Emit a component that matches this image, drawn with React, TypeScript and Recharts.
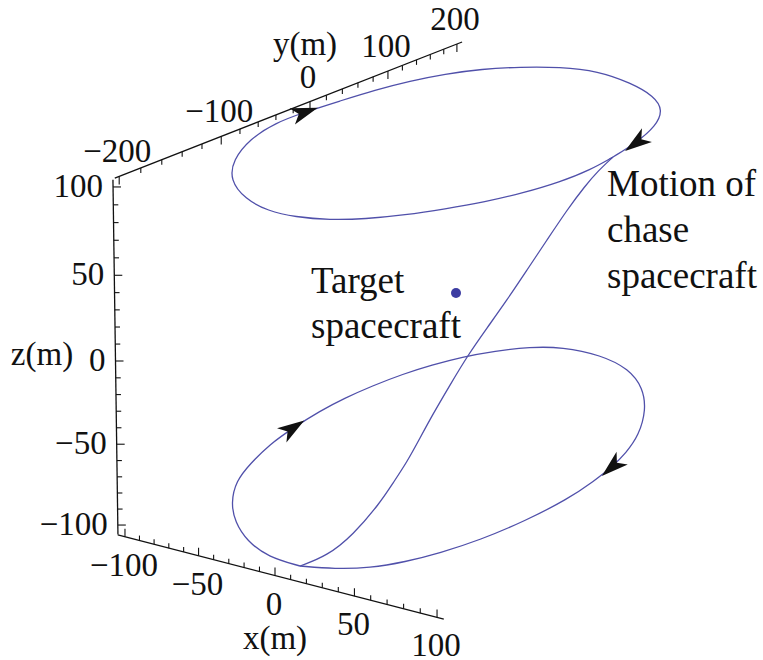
import React from "react";
import { LineChart, Line, XAxis, YAxis, ReferenceLine, ReferenceDot } from "recharts";

// Chase spacecraft trajectory, traced in the projected view plane (1 unit = 1 px)
const upperLoop = [
  { x: 613, y: 157 }, { x: 590, y: 170 }, { x: 560, y: 182 }, { x: 523, y: 193 },
  { x: 485, y: 202 }, { x: 445, y: 209 }, { x: 405, y: 215 }, { x: 365, y: 219 },
  { x: 330, y: 220 }, { x: 295, y: 217 }, { x: 268, y: 211 }, { x: 245, y: 199 },
  { x: 230, y: 180 }, { x: 233, y: 160 }, { x: 250, y: 139 }, { x: 275, y: 123 },
  { x: 305, y: 112 }, { x: 340, y: 101 }, { x: 375, y: 90 }, { x: 410, y: 81 },
  { x: 445, y: 74 }, { x: 482, y: 69 }, { x: 520, y: 67 }, { x: 560, y: 67 },
  { x: 598, y: 71 }, { x: 631, y: 83 }, { x: 654, y: 96 }, { x: 663, y: 110 },
  { x: 656, y: 126 }, { x: 636, y: 143 }, { x: 613, y: 157 },
];

const transfer = [
  { x: 613, y: 157 }, { x: 598, y: 171 }, { x: 585, y: 186 }, { x: 567, y: 210 },
  { x: 547, y: 240 }, { x: 527, y: 270 }, { x: 507, y: 300 }, { x: 487, y: 328 },
  { x: 468, y: 355 }, { x: 450, y: 385 }, { x: 433, y: 414 }, { x: 420, y: 438 },
  { x: 407, y: 462 }, { x: 393, y: 483 }, { x: 380, y: 503 }, { x: 353, y: 535 },
  { x: 327, y: 556 }, { x: 300, y: 566 },
];

const lowerLoop = [
  { x: 300, y: 566 }, { x: 268, y: 557 }, { x: 247, y: 541 }, { x: 235, y: 522 },
  { x: 231, y: 503 }, { x: 236, y: 481 }, { x: 250, y: 464 }, { x: 270, y: 444 },
  { x: 293, y: 428 }, { x: 320, y: 411 }, { x: 345, y: 398 }, { x: 372, y: 386 },
  { x: 403, y: 374 }, { x: 432, y: 365 }, { x: 462, y: 357 }, { x: 495, y: 351 },
  { x: 530, y: 347 }, { x: 562, y: 347 }, { x: 601, y: 355 }, { x: 629, y: 369 },
  { x: 643, y: 388 }, { x: 646, y: 410 }, { x: 639, y: 435 }, { x: 626, y: 453 },
  { x: 612, y: 467 }, { x: 594, y: 481 }, { x: 568, y: 499 }, { x: 525, y: 521 },
  { x: 480, y: 540 }, { x: 440, y: 553 }, { x: 405, y: 562 }, { x: 370, y: 568 },
  { x: 335, y: 569 }, { x: 300, y: 566 },
];

const targetPoint = [{ x: 456, y: 293 }];

// direction arrows: which path and which traced point they sit on
const arrowMarks = [
  { path: upperLoop, at: 16 },
  { path: upperLoop, at: 29 },
  { path: lowerLoop, at: 8 },
  { path: lowerLoop, at: 24 },
];

const xTickLabels = [-100, -50, 0, 50, 100];
const yTickLabels = [-200, -100, 0, 100, 200];
const zTickLabels = [-100, -50, 0, 50, 100];

const W = 763;
const H = 660;
const INK = "#111";
const CURVE = "#5050aa";
const SERIF = "'Liberation Serif', 'Times New Roman', serif";

type BoxAxis = {
  origin: [number, number]; // where value 0 lands
  dir: [number, number];
  a: number; // px per 100 units at the origin
  c: number; // perspective foreshortening
  min: number;
  max: number;
  minor: number;
  major: number;
  tickDir: [number, number];
  labels: number[];
  labelOffset: [number, number];
  anchor: "middle" | "end";
};

const xAxis3: BoxAxis = {
  origin: [275, 575.6], dir: [1, 0.2585], a: 155.8, c: 0.0385,
  min: -105, max: 104, minor: 10, major: 50, tickDir: [0, -1],
  labels: xTickLabels, labelOffset: [-1, 28], anchor: "middle",
};
const yAxis3: BoxAxis = {
  origin: [310, 101.6], dir: [1, -0.392], a: 83, c: -0.065,
  min: -204, max: 208, minor: 20, major: 100, tickDir: [0, 1],
  labels: yTickLabels, labelOffset: [-2, -25], anchor: "middle",
};
const zAxis3: BoxAxis = {
  origin: [115.5, 361], dir: [-0.0141, -1], a: 168.9, c: 0.0296,
  min: -106, max: 104, minor: 10, major: 50, tickDir: [1, 0],
  labels: zTickLabels, labelOffset: [-10, -1], anchor: "end",
};

const project = (ax: BoxAxis, v: number) => {
  const u = v / 100;
  const s = (ax.a * u) / (1 - ax.c * u);
  return { x: ax.origin[0] + ax.dir[0] * s, y: ax.origin[1] + ax.dir[1] * s };
};

const fmt = (v: number) => (v < 0 ? `\u2212${-v}` : `${v}`);

const textShape =
  (lines: string[], size: number, anchor: string, lineGap = 0) =>
  (p: any) => (
    <text
      x={p.cx}
      y={p.cy}
      textAnchor={anchor}
      fontFamily={SERIF}
      fontSize={size}
      fill={INK}
      dominantBaseline={lineGap ? "alphabetic" : "central"}
    >
      {lines.map((t, i) => (
        <tspan key={i} x={p.cx} dy={i === 0 ? 0 : lineGap}>
          {t}
        </tspan>
      ))}
    </text>
  );

function axisElements(ax: BoxAxis, key: string) {
  const out: React.ReactElement[] = [];
  const a = project(ax, ax.min);
  const b = project(ax, ax.max);
  out.push(
    <ReferenceLine
      key={`${key}-line`}
      segment={[a, b]}
      stroke={INK}
      strokeWidth={1.3}
      ifOverflow="visible"
    />
  );
  const first = Math.ceil(ax.min / ax.minor) * ax.minor;
  for (let v = first; v <= ax.max; v += ax.minor) {
    const p = project(ax, v);
    const len = v % ax.major === 0 ? 8 : 5;
    out.push(
      <ReferenceLine
        key={`${key}-t${v}`}
        segment={[p, { x: p.x + ax.tickDir[0] * len, y: p.y + ax.tickDir[1] * len }]}
        stroke={INK}
        strokeWidth={1.1}
        ifOverflow="visible"
      />
    );
  }
  ax.labels.forEach((v) => {
    const p = project(ax, v);
    out.push(
      <ReferenceDot
        key={`${key}-l${v}`}
        x={p.x + ax.labelOffset[0]}
        y={p.y + ax.labelOffset[1]}
        r={0}
        ifOverflow="visible"
        shape={textShape([fmt(v)], 33, ax.anchor)}
      />
    );
  });
  return out;
}

// dart-shaped arrowhead, centred on the anchor point
const arrowShape = (angle: number) => (p: any) => {
  const L = 27;
  const hw = 8.5;
  const notch = 7;
  return (
    <polygon
      points={`${L / 2},0 ${-L / 2},${-hw} ${-L / 2 + notch},0 ${-L / 2},${hw}`}
      transform={`translate(${p.cx},${p.cy}) rotate(${angle})`}
      fill={INK}
    />
  );
};

export default function App() {
  const paths = [upperLoop, transfer, lowerLoop];
  return (
    <div style={{ position: "absolute", left: 0, top: 0, width: W, height: H, background: "#fff" }}>
      <LineChart width={W} height={H} margin={{ top: 0, right: 0, bottom: 0, left: 0 }}>
        <XAxis type="number" dataKey="x" domain={[0, W]} hide allowDataOverflow />
        <YAxis type="number" dataKey="y" domain={[0, H]} reversed hide allowDataOverflow />

        {axisElements(xAxis3, "ax")}
        {axisElements(yAxis3, "ay")}
        {axisElements(zAxis3, "az")}

        {paths.map((d, i) => (
          <Line
            key={i}
            data={d}
            dataKey="y"
            type="basis"
            stroke={CURVE}
            strokeWidth={1.3}
            dot={false}
            activeDot={false}
            isAnimationActive={false}
          />
        ))}

        <Line
          data={targetPoint}
          dataKey="y"
          stroke="none"
          dot={{ r: 5, fill: "#3c3ca2", stroke: "none" }}
          activeDot={false}
          isAnimationActive={false}
        />

        {arrowMarks.map((m, i) => {
          const prev = m.path[m.at - 1];
          const next = m.path[m.at + 1];
          const angle = (Math.atan2(next.y - prev.y, next.x - prev.x) * 180) / Math.PI;
          return (
            <ReferenceDot
              key={`arrow-${i}`}
              x={m.path[m.at].x}
              y={m.path[m.at].y}
              r={0}
              ifOverflow="visible"
              shape={arrowShape(angle)}
            />
          );
        })}

        <ReferenceDot x={305} y={44} r={0} ifOverflow="visible" shape={textShape(["y(m)"], 33, "middle")} />
        <ReferenceDot x={275} y={638} r={0} ifOverflow="visible" shape={textShape(["x(m)"], 33, "middle")} />
        <ReferenceDot x={42} y={354} r={0} ifOverflow="visible" shape={textShape(["z(m)"], 33, "middle")} />

        <ReferenceDot
          x={311}
          y={293}
          r={0}
          ifOverflow="visible"
          shape={textShape(["Target", "spacecraft"], 37, "start", 45)}
        />
        <ReferenceDot
          x={607}
          y={196}
          r={0}
          ifOverflow="visible"
          shape={textShape(["Motion of", "chase", "spacecraft"], 37, "start", 46)}
        />
      </LineChart>
    </div>
  );
}
